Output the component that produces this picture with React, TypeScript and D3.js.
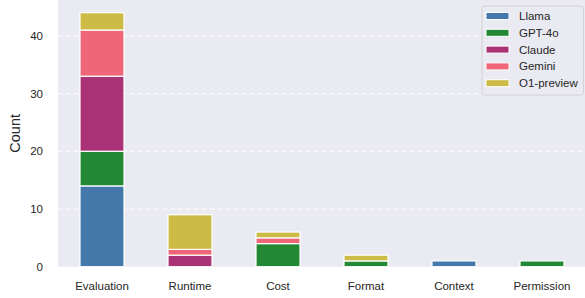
import * as d3 from 'd3';

const categories = ['Evaluation', 'Runtime', 'Cost', 'Format', 'Context', 'Permission'];
const models = ['Llama', 'GPT-4o', 'Claude', 'Gemini', 'O1-preview'];
const colors = ['#4477AA', '#228833', '#AA3377', '#EE6677', '#CCBB44'];

const llama = [14, 0, 0, 0, 1, 0];
const gpt4o = [6, 0, 4, 1, 0, 1];
const claude = [13, 2, 0, 0, 0, 0];
const gemini = [8, 1, 1, 0, 0, 0];
const o1preview = [3, 6, 1, 1, 0, 0];

const yTicks = [0, 10, 20, 30, 40];

const W = 585;
const H = 298;
const font = 'Arial, "Liberation Sans", "DejaVu Sans", sans-serif';

const App = () => {
  const series = [llama, gpt4o, claude, gemini, o1preview];
  const rows = categories.map((c, i) => {
    const r: Record<string, any> = { cat: c };
    models.forEach((m, j) => (r[m] = series[j][i]));
    return r;
  });
  const stacked = d3.stack<any>().keys(models)(rows);

  const x = d3.scaleBand<string>().domain(categories).range([58, 586]).paddingInner(0.5).paddingOuter(0.25);
  const totals = rows.map(r => d3.sum(models, m => r[m]));
  const y = d3.scaleLinear().domain([0, d3.max(totals)! * 1.05]).range([266.7, 0]);

  return (
    <div style={{ position: 'fixed', left: 0, top: 0 }}>
      <svg width={W} height={H} style={{ display: 'block', fontFamily: font }}>
        <rect x={0} y={0} width={W} height={H} fill="#ffffff" />
        <rect x={58} y={0} width={W - 58} height={y(0)} fill="#EAEAF2" />
        {/* dashed white grid */}
        {yTicks.filter(t => t > 0).map(t => (
          <line key={t} x1={58} x2={W} y1={y(t)} y2={y(t)} stroke="#ffffff" strokeWidth={1} strokeDasharray="5,3" opacity={0.9} />
        ))}
        {stacked.map((s, j) => (
          <g key={models[j]} fill={colors[j]}>
            {s.map((d, i) =>
              d[1] - d[0] > 0 ? (
                <rect
                  key={i}
                  x={x(categories[i])}
                  width={x.bandwidth()}
                  y={y(d[1])}
                  height={y(d[0]) - y(d[1])}
                  stroke="#ffffff"
                  strokeWidth={1.2}
                />
              ) : null
            )}
          </g>
        ))}
        {yTicks.map(t => (
          <text key={t} x={43} y={y(t)} dy="0.35em" textAnchor="end" fontSize={11.5} fill="#262626">
            {t}
          </text>
        ))}
        {categories.map(c => (
          <text key={c} x={x(c)! + x.bandwidth() / 2} y={286} dy="0.35em" textAnchor="middle" fontSize={11.5} fill="#262626">
            {c}
          </text>
        ))}
        <text transform={`translate(15,${y(0) / 2}) rotate(-90)`} textAnchor="middle" dy="0.35em" fontSize={14.5} fill="#262626">
          Count
        </text>
        {/* legend */}
        <g>
          <rect x={482} y={6} width={101.5} height={89} rx={2.5} fill="#EAEAF2" fillOpacity={0.85} stroke="#cccccc" strokeWidth={0.8} />
          {models.map((m, j) => (
            <g key={m} transform={`translate(486,${16 + j * 16.8})`}>
              <rect x={0} y={-3.5} width={23} height={7} fill={colors[j]} stroke="#ffffff" strokeWidth={1} />
              <text x={33} y={0} dy="0.35em" fontSize={11.5} fill="#262626">
                {m}
              </text>
            </g>
          ))}
        </g>
      </svg>
    </div>
  );
};

export default App;
